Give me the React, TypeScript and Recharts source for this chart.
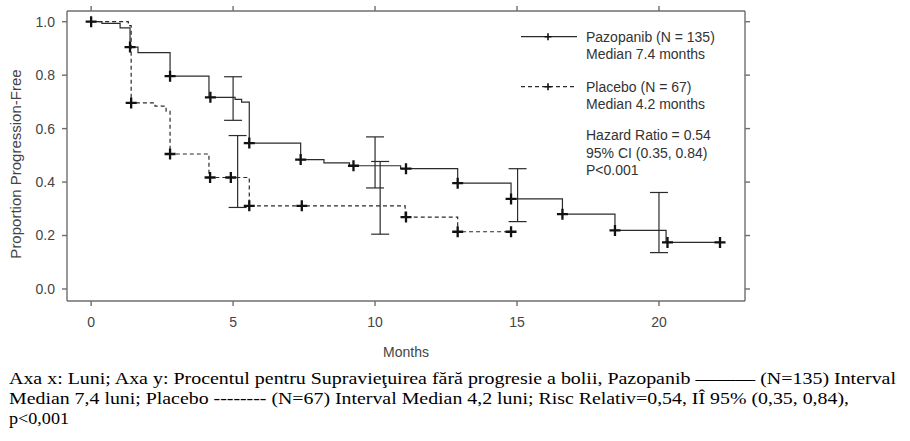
import {
  ComposedChart,
  ErrorBar,
  Legend,
  Line,
  Scatter,
  XAxis,
  YAxis,
} from "recharts";

const xTicks = [0, 5, 10, 15, 20];
const yTicks = [0, 0.2, 0.4, 0.6, 0.8, 1.0];

// Kaplan-Meier steps
const pazTime = [0, 0.38, 1.02, 1.37, 1.65, 2.78, 4.15, 5.07, 5.3, 5.57, 7.38, 8.2, 9.1, 10.9, 12.91, 14.79, 16.6, 18.45, 20.25, 22.15];
const pazSurv = [1.0, 0.994, 0.977, 0.905, 0.884, 0.796, 0.717, 0.709, 0.699, 0.546, 0.484, 0.472, 0.461, 0.45, 0.396, 0.337, 0.28, 0.219, 0.174, 0.174];
const plaTime = [0, 1.31, 1.41, 2.25, 2.64, 2.78, 4.15, 5.57, 11.06, 12.91, 14.79];
const plaSurv = [1.0, 0.985, 0.696, 0.684, 0.665, 0.505, 0.417, 0.311, 0.269, 0.214, 0.214];

// censor marks
const pazCensorTime = [0, 1.37, 2.78, 4.2, 5.57, 7.38, 9.24, 11.09, 12.91, 14.79, 16.6, 18.45, 20.3, 22.15];
const pazCensorSurv = [1.0, 0.905, 0.796, 0.717, 0.546, 0.484, 0.461, 0.45, 0.396, 0.337, 0.28, 0.219, 0.174, 0.174];
const plaCensorTime = [1.41, 2.78, 4.19, 4.92, 5.57, 7.42, 11.09, 12.91, 14.79];
const plaCensorSurv = [0.696, 0.505, 0.417, 0.417, 0.311, 0.311, 0.269, 0.214, 0.214];

// 95% CI bars
const ciTime = [5.0, 10.0, 15.02, 20.0, 5.16, 10.18];
const ciLow = [0.631, 0.378, 0.252, 0.136, 0.305, 0.205];
const ciHigh = [0.794, 0.569, 0.45, 0.361, 0.574, 0.477];

const legendRows = ["Pazopanib (N = 135)", "Median 7.4 months", "Placebo (N = 67)", "Median 4.2 months"];
const statRows = ["Hazard Ratio = 0.54", "95% CI (0.35, 0.84)", "P<0.001"];

const captionLines = [
  "Axa x: Luni; Axa y: Procentul pentru Supravieţuirea fără progresie a bolii, Pazopanib ——— (N=135) Interval",
  "Median 7,4 luni; Placebo -------- (N=67) Interval Median 4,2 luni; Risc Relativ=0,54, IÎ 95% (0,35, 0,84),",
  "p<0,001",
];
const captionWidths = [887, 840, 60];

const toPoints = (xs: number[], ys: number[]) => xs.map((x, i) => ({ x, y: ys[i] }));

const pazData = toPoints(pazTime, pazSurv);
const plaData = toPoints(plaTime, plaSurv);
const censorData = [...toPoints(pazCensorTime, pazCensorSurv), ...toPoints(plaCensorTime, plaCensorSurv)];
const ciData = ciTime.map((x, i) => ({ x, y: ciLow[i], err: [0, ciHigh[i] - ciLow[i]] }));

const FONT = "'Liberation Sans', Arial, sans-serif";
const INK = "#2b2b2b";
const AXIS = "#6e6e6e";

const Cross = (props: any) => {
  const { cx, cy } = props;
  if (cx == null || cy == null) return <g />;
  return (
    <path
      d={`M${cx - 5.5},${cy}h11M${cx},${cy - 5.5}v11`}
      stroke="#111"
      strokeWidth={2.3}
    />
  );
};

const Hidden = () => <g />;

const YTitle = () => (
  <text
    x={15}
    y={164}
    transform="rotate(-90 15 164)"
    textAnchor="middle"
    dominantBaseline="central"
    fontFamily={FONT}
    fontSize={15}
    fill="#444"
  >
    Proportion Progression-Free
  </text>
);

const LegendBox = () => {
  const textX = 71;
  return (
    <svg width={240} height={160} style={{ overflow: "visible" }}>
      <g fontFamily={FONT} fontSize={14} fill="#333">
        {/* Pazopanib */}
        <line x1={6} x2={62} y1={16.7} y2={16.7} stroke={INK} strokeWidth={1.2} />
        <path d="M33,13.2v7M29.5,16.7h7" stroke="#111" strokeWidth={1.6} />
        <text x={textX} y={21.7}>{legendRows[0]}</text>
        <text x={textX} y={39.3}>{legendRows[1]}</text>
        {/* Placebo */}
        <line x1={6} x2={62} y1={66.7} y2={66.7} stroke={INK} strokeWidth={1.2} strokeDasharray="4 3" />
        <path d="M33,63.2v7M29.5,66.7h7" stroke="#111" strokeWidth={1.6} />
        <text x={textX} y={71.7}>{legendRows[2]}</text>
        <text x={textX} y={89.3}>{legendRows[3]}</text>
        {statRows.map((s, i) => (
          <text key={s} x={textX} y={120 + i * 17.6}>{s}</text>
        ))}
      </g>
    </svg>
  );
};

export default function App() {
  return (
    <div style={{ position: "absolute", left: 0, top: 0, width: 910, height: 441, background: "#fff" }}>
      <ComposedChart width={910} height={363} margin={{ top: 0, right: 0, bottom: 0, left: 0 }}>
        <XAxis
          xAxisId={0}
          dataKey="x"
          type="number"
          domain={[-0.85, 23.03]}
          allowDataOverflow
          ticks={xTicks}
          height={62}
          tickSize={5}
          tickMargin={11}
          stroke={AXIS}
          strokeWidth={1.4}
          tick={{ fill: "#444", fontSize: 14, fontFamily: FONT }}
          label={{ value: "Months", position: "insideBottom", offset: 6, fill: "#444", fontSize: 14, fontFamily: FONT }}
        />
        <XAxis
          xAxisId="top"
          orientation="top"
          dataKey="x"
          type="number"
          domain={[-0.85, 23.03]}
          allowDataOverflow
          ticks={xTicks}
          height={11}
          tickSize={5}
          tickFormatter={() => ""}
          stroke={AXIS}
          strokeWidth={1.4}
        />
        <YAxis
          yAxisId={0}
          type="number"
          domain={[-0.045, 1.04]}
          allowDataOverflow
          ticks={yTicks}
          width={67}
          tickSize={5}
          tickMargin={7}
          tickFormatter={(v: number) => v.toFixed(1)}
          stroke={AXIS}
          strokeWidth={1.4}
          tick={{ fill: "#444", fontSize: 14, fontFamily: FONT }}
          label={<YTitle />}
        />
        <YAxis
          yAxisId="right"
          orientation="right"
          type="number"
          domain={[-0.045, 1.04]}
          allowDataOverflow
          ticks={yTicks}
          width={165}
          tickSize={5}
          tickFormatter={() => ""}
          stroke={AXIS}
          strokeWidth={1.4}
        />
        <Legend
          layout="horizontal"
          verticalAlign="middle"
          align="center"
          wrapperStyle={{ left: 515, top: 20, width: 240, height: 160 }}
          content={() => <LegendBox />}
        />
        <Line
          data={plaData}
          dataKey="y"
          type="stepAfter"
          stroke={INK}
          strokeWidth={1.2}
          strokeDasharray="4 3"
          dot={false}
          activeDot={false}
          legendType="none"
          isAnimationActive={false}
        />
        <Line
          data={pazData}
          dataKey="y"
          type="stepAfter"
          stroke={INK}
          strokeWidth={1.2}
          dot={false}
          activeDot={false}
          legendType="none"
          isAnimationActive={false}
        />
        <Scatter data={ciData} dataKey="y" shape={<Hidden />} legendType="none" isAnimationActive={false}>
          <ErrorBar dataKey="err" direction="y" width={9} stroke={INK} strokeWidth={1.2} isAnimationActive={false} />
        </Scatter>
        <Scatter data={censorData} dataKey="y" shape={<Cross />} legendType="none" isAnimationActive={false} />
      </ComposedChart>
      <svg width={910} height={78} style={{ position: "absolute", left: 0, top: 363 }}>
        <g fontFamily="'Liberation Serif', 'Times New Roman', serif" fontSize={17} fill="#000">
          {captionLines.map((t, i) => (
            <text key={i} x={9} y={21 + i * 20} textLength={captionWidths[i]} lengthAdjust="spacingAndGlyphs">
              {t}
            </text>
          ))}
        </g>
      </svg>
    </div>
  );
}
